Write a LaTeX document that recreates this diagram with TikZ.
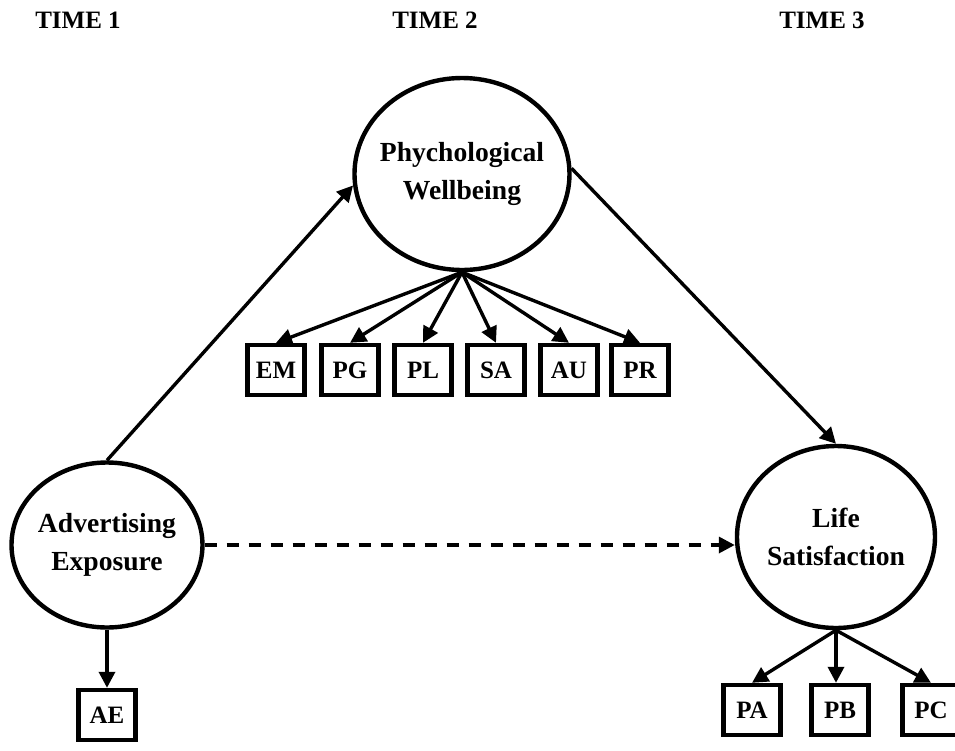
\documentclass[tikz,border=0pt]{standalone}
\usepackage{fontspec}
\setmainfont{Liberation Serif}
\usetikzlibrary{shapes,arrows.meta}

\tikzset{
  latent/.style={ellipse, draw, line width=2.2pt, inner sep=-20pt, align=center, font=\bfseries\fontsize{13.8}{19}\selectfont},
  observed/.style={rectangle, draw, line width=2.2pt, minimum width=28.5pt, minimum height=25pt, inner sep=0pt},
  path/.style={line width=1.7pt, ->},
  >={Triangle[length=8pt, width=8pt]}
}

\begin{document}
\begin{tikzpicture}[x=0.5pt, y=-0.5pt, font=\bfseries\fontsize{12.5}{19}\selectfont]
\useasboundingbox (0,0) rectangle (955,751);
\node (t1) at (78, 20) {TIME 1};
\node (t2) at (435, 20) {TIME 2};
\node (t3) at (822, 20) {TIME 3};
\node (pw) at (462, 174) [latent, minimum width=107.5pt, minimum height=96pt] {Phychological\\Wellbeing};
\node (ae) at (107, 545) [latent, minimum width=95.5pt, minimum height=82.5pt] {Advertising\\Exposure};
\node (ls) at (836, 537) [latent, minimum width=99pt, minimum height=91pt] {Life\\Satisfaction};
\node (em) at (276, 370) [observed] {EM};
\node (pg) at (350, 370) [observed] {PG};
\node (pl) at (423, 370) [observed] {PL};
\node (sa) at (496, 370) [observed] {SA};
\node (au) at (569, 370) [observed] {AU};
\node (pr) at (640, 370) [observed] {PR};
\node (aeb) at (107, 715) [observed] {AE};
\node (pa) at (752, 710) [observed] {PA};
\node (pb) at (840, 710) [observed] {PB};
\node (pc) at (931, 710) [observed] {PC};
\draw [path] (ae.north) -- (pw.186);
\draw [path] (pw.3) -- (ls.north);
\draw [path, dash pattern=on 6pt off 5pt] (ae.east) -- (ae.east -| ls.west);
\draw [path] (pw.south) -- (em.north);
\draw [path] (pw.south) -- (pg.north);
\draw [path] (pw.south) -- (pl.north);
\draw [path] (pw.south) -- (sa.north);
\draw [path] (pw.south) -- (au.north);
\draw [path] (pw.south) -- (pr.north);
\draw [path] (ae.south) -- (aeb.north);
\draw [path] (ls.south) -- (pa.north);
\draw [path] (ls.south) -- (ls.south |- pb.north);
\draw [path] (ls.south) -- (pc.north);
\end{tikzpicture}
\end{document}
